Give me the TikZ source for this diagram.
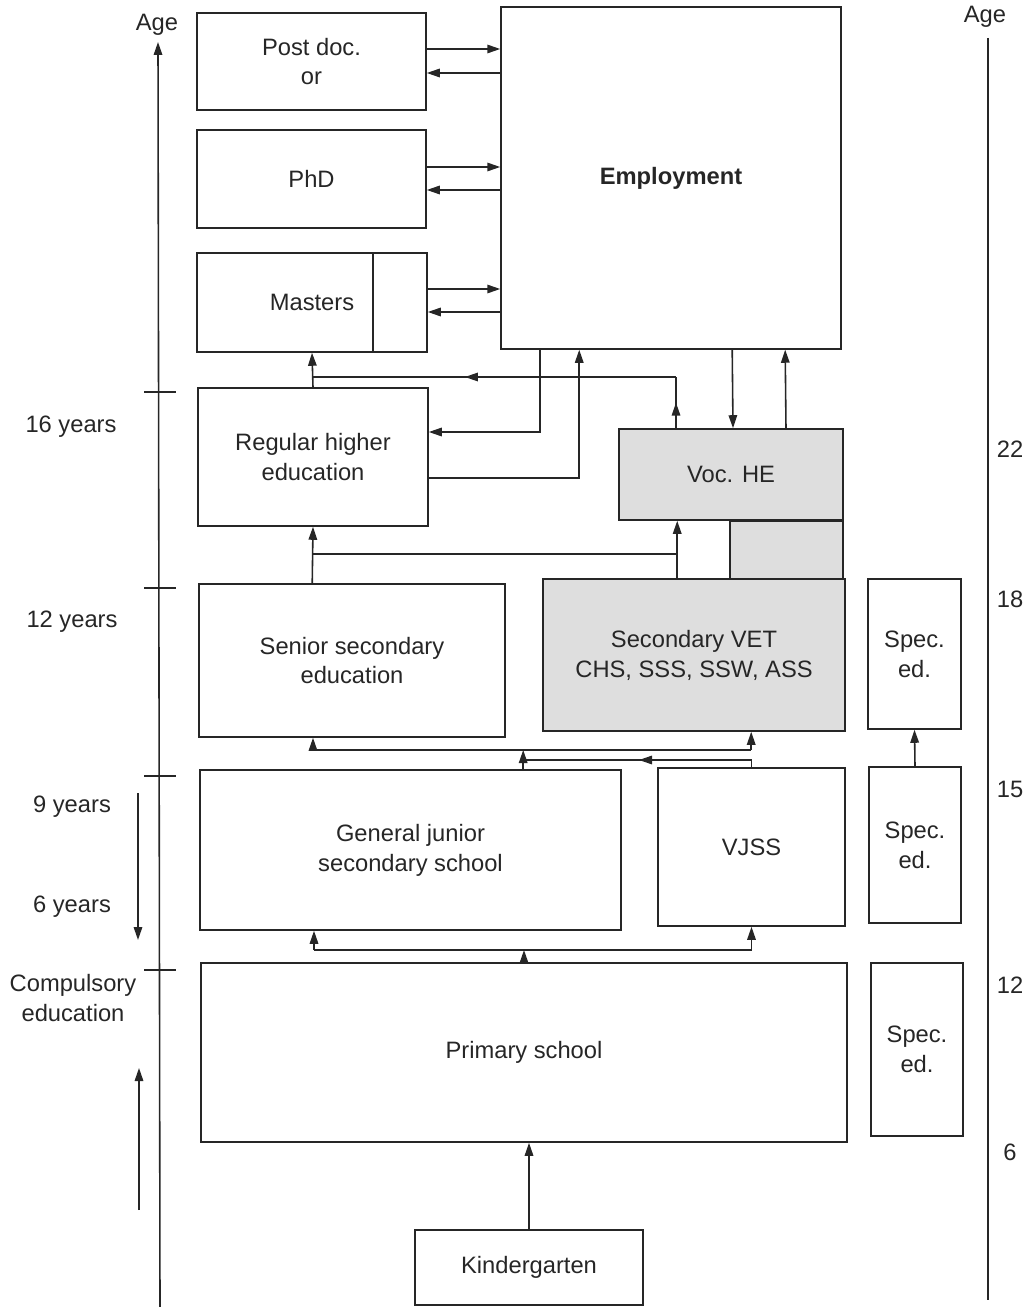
\documentclass[tikz,border=0pt]{standalone}
\usepackage{fontspec}
\setmainfont{Liberation Sans}
\usetikzlibrary{arrows.meta, positioning, calc, decorations.markings}

\begin{document}
\begin{tikzpicture}[x=0.02cm, y=-0.02cm, line width=0.9pt, draw=black!85,
    box/.style={draw=black!85, line width=0.9pt, align=center, text=black!85,
      font=\fontsize{13.5pt}{17pt}\selectfont, inner sep=0pt},
    grey/.style={box, fill=black!13},
    lbl/.style={align=center, text=black!85, font=\fontsize{13.5pt}{17pt}\selectfont},
    arr/.style={-{Triangle[length=2.6mm, width=1.7mm]}},
    midarr/.style={postaction={decorate}, decoration={markings,
      mark=at position #1 with {\arrow{Triangle[length=2.6mm, width=1.7mm]}}}},
    midarr/.default=0.5]
    \useasboundingbox (0,0) rectangle (1028,1307);

    % Higher levels
    \node[box, minimum width=4.58cm, minimum height=1.94cm] (postdoc) at (311.5,61.5) {Post doc.\\or};
    \node[box, minimum width=4.58cm, minimum height=1.96cm] (phd) at (311.5,179) {PhD};
    \node[box, minimum width=4.6cm, minimum height=1.98cm] (masters) at (312,302.5) {Masters};
    \draw ([xshift=3.54cm]masters.north west) -- ([xshift=3.54cm]masters.south west);
    \node[box, minimum width=6.8cm, minimum height=6.84cm, font=\fontsize{13.5pt}{17pt}\selectfont\bfseries] (employ) at (671,178) {Employment};
    \node[box, minimum width=4.6cm, minimum height=2.76cm] (rhe) at (313,457) {Regular higher\\education};
    \node[grey, minimum width=4.48cm, minimum height=1.82cm] (vochE) at (731,474.5) {Voc. HE};
    \node[grey, minimum width=2.26cm, minimum height=1.18cm, anchor=north east] (vocext) at (vochE.south east) {};

    % Secondary levels
    \node[box, minimum width=6.12cm, minimum height=3.06cm] (senior) at (352,660.5) {Senior secondary\\education};
    \node[grey, minimum width=6.04cm, minimum height=3.04cm] (vet) at (694,655) {Secondary VET\\CHS, SSS, SSW, ASS};
    \node[box, minimum width=1.86cm, minimum height=3.0cm] (spec1) at (914.5,654) {Spec.\\ed.};
    \node[box, minimum width=8.42cm, minimum height=3.2cm] (junior) at (410.5,850) {General junior\\secondary school};
    \node[box, minimum width=3.74cm, minimum height=3.16cm] (vjss) at (751.5,847) {VJSS};
    \node[box, minimum width=1.84cm, minimum height=3.12cm] (spec2) at (915,845) {Spec.\\ed.};

    % Primary levels
    \node[box, minimum width=12.92cm, minimum height=3.58cm] (primary) at (524,1052.5) {Primary school};
    \node[box, minimum width=1.84cm, minimum height=3.46cm] (spec3) at (917,1049.5) {Spec.\\ed.};
    \node[box, minimum width=4.56cm, minimum height=1.5cm] (kinder) at (529,1267.5) {Kindergarten};

    % To and from employment
    \draw[arr] ([yshift=0.25cm]postdoc.east) -- ([yshift=0.25cm]postdoc.east -| employ.west);
    \draw[arr] ([yshift=-0.23cm]postdoc.east -| employ.west) -- ([yshift=-0.23cm]postdoc.east);
    \draw[arr] ([yshift=0.24cm]phd.east) -- ([yshift=0.24cm]phd.east -| employ.west);
    \draw[arr] ([yshift=-0.22cm]phd.east -| employ.west) -- ([yshift=-0.22cm]phd.east);
    \draw[arr] ([yshift=0.27cm]masters.east) -- ([yshift=0.27cm]masters.east -| employ.west);
    \draw[arr] ([yshift=-0.19cm]masters.east -| employ.west) -- ([yshift=-0.19cm]masters.east);
    \draw[arr] ([xshift=0.8cm]employ.south west) |- ([yshift=0.5cm]rhe.east);
    \draw[arr] ([yshift=-0.42cm]rhe.east) -| ([xshift=1.58cm]employ.south west);
    \draw[arr] ([xshift=4.64cm]employ.south west) -- ([xshift=0.04cm]vochE.north);
    \draw[arr] ([xshift=1.1cm]vochE.north) -- ([xshift=5.7cm]employ.south west);

    % Higher education paths
    \coordinate (j1) at (676,377);
    \draw[arr] (rhe.north) -- (masters.south);
    \draw[midarr] ([xshift=-1.1cm]vochE.north) -- (j1);
    \draw[midarr=0.58] (j1) -- (j1 -| masters.south);
    \coordinate (j2) at (313,554);
    \coordinate (vt) at ([xshift=2.7cm]vet.north west);
    \draw[arr] ([xshift=2.28cm]senior.north west) -- (rhe.south);
    \draw (j2) -- (j2 -| vt);
    \draw[arr] (vt) -- (vt |- vochE.south);

    % Secondary paths
    \coordinate (j3) at (313,750);
    \coordinate (vb) at ([xshift=4.18cm]vet.south west);
    \coordinate (jt) at ([xshift=6.48cm]junior.north west);
    \coordinate (j4) at (524,760);
    \draw (j3) -- (j3 -| vb);
    \draw[arr] (j3) -- (j3 |- senior.south);
    \draw[arr] (j3 -| vb) -- (vb);
    \draw[arr] (jt) -- (jt |- j3);
    \draw[midarr=0.51] (vjss.north) |- (j4);
    \draw[arr] (spec2.north) -- (spec1.south);

    % Primary paths
    \coordinate (j5) at (314,950);
    \draw (j5) -- (j5 -| vjss.south);
    \draw[arr] (j5) -- (j5 |- junior.south);
    \draw[arr] (j5 -| vjss.south) -- (vjss.south);
    \draw[arr] (primary.north) -- (primary.north |- j5);
    \draw[arr] (kinder.north) -- (kinder.north |- primary.south);

    % Left axis
    \node[lbl] at (157,25) {Age};
    \draw[arr] (160,1307) -- (158,42);
    \foreach \y in {392,588,776,970}
        \draw (144,\y) -- (176,\y);
    \node[lbl] at (71,427) {16 years};
    \node[lbl] at (72,622) {12 years};
    \node[lbl] at (72,807) {9 years};
    \node[lbl] at (72,907) {6 years};
    \node[lbl] at (73,998) {Compulsory\\education};
    \draw[arr] (138,793) -- (138,940);
    \draw[arr] (139,1210) -- (139,1068);

    % Right axis
    \node[lbl] at (985,17) {Age};
    \draw (988,38) -- (988,1300);
    \foreach \a/\y in {22/449,18/599,15/789,12/985,6/1152}
        \node[lbl] at (1010,\y) {\a};
\end{tikzpicture}
\end{document}
